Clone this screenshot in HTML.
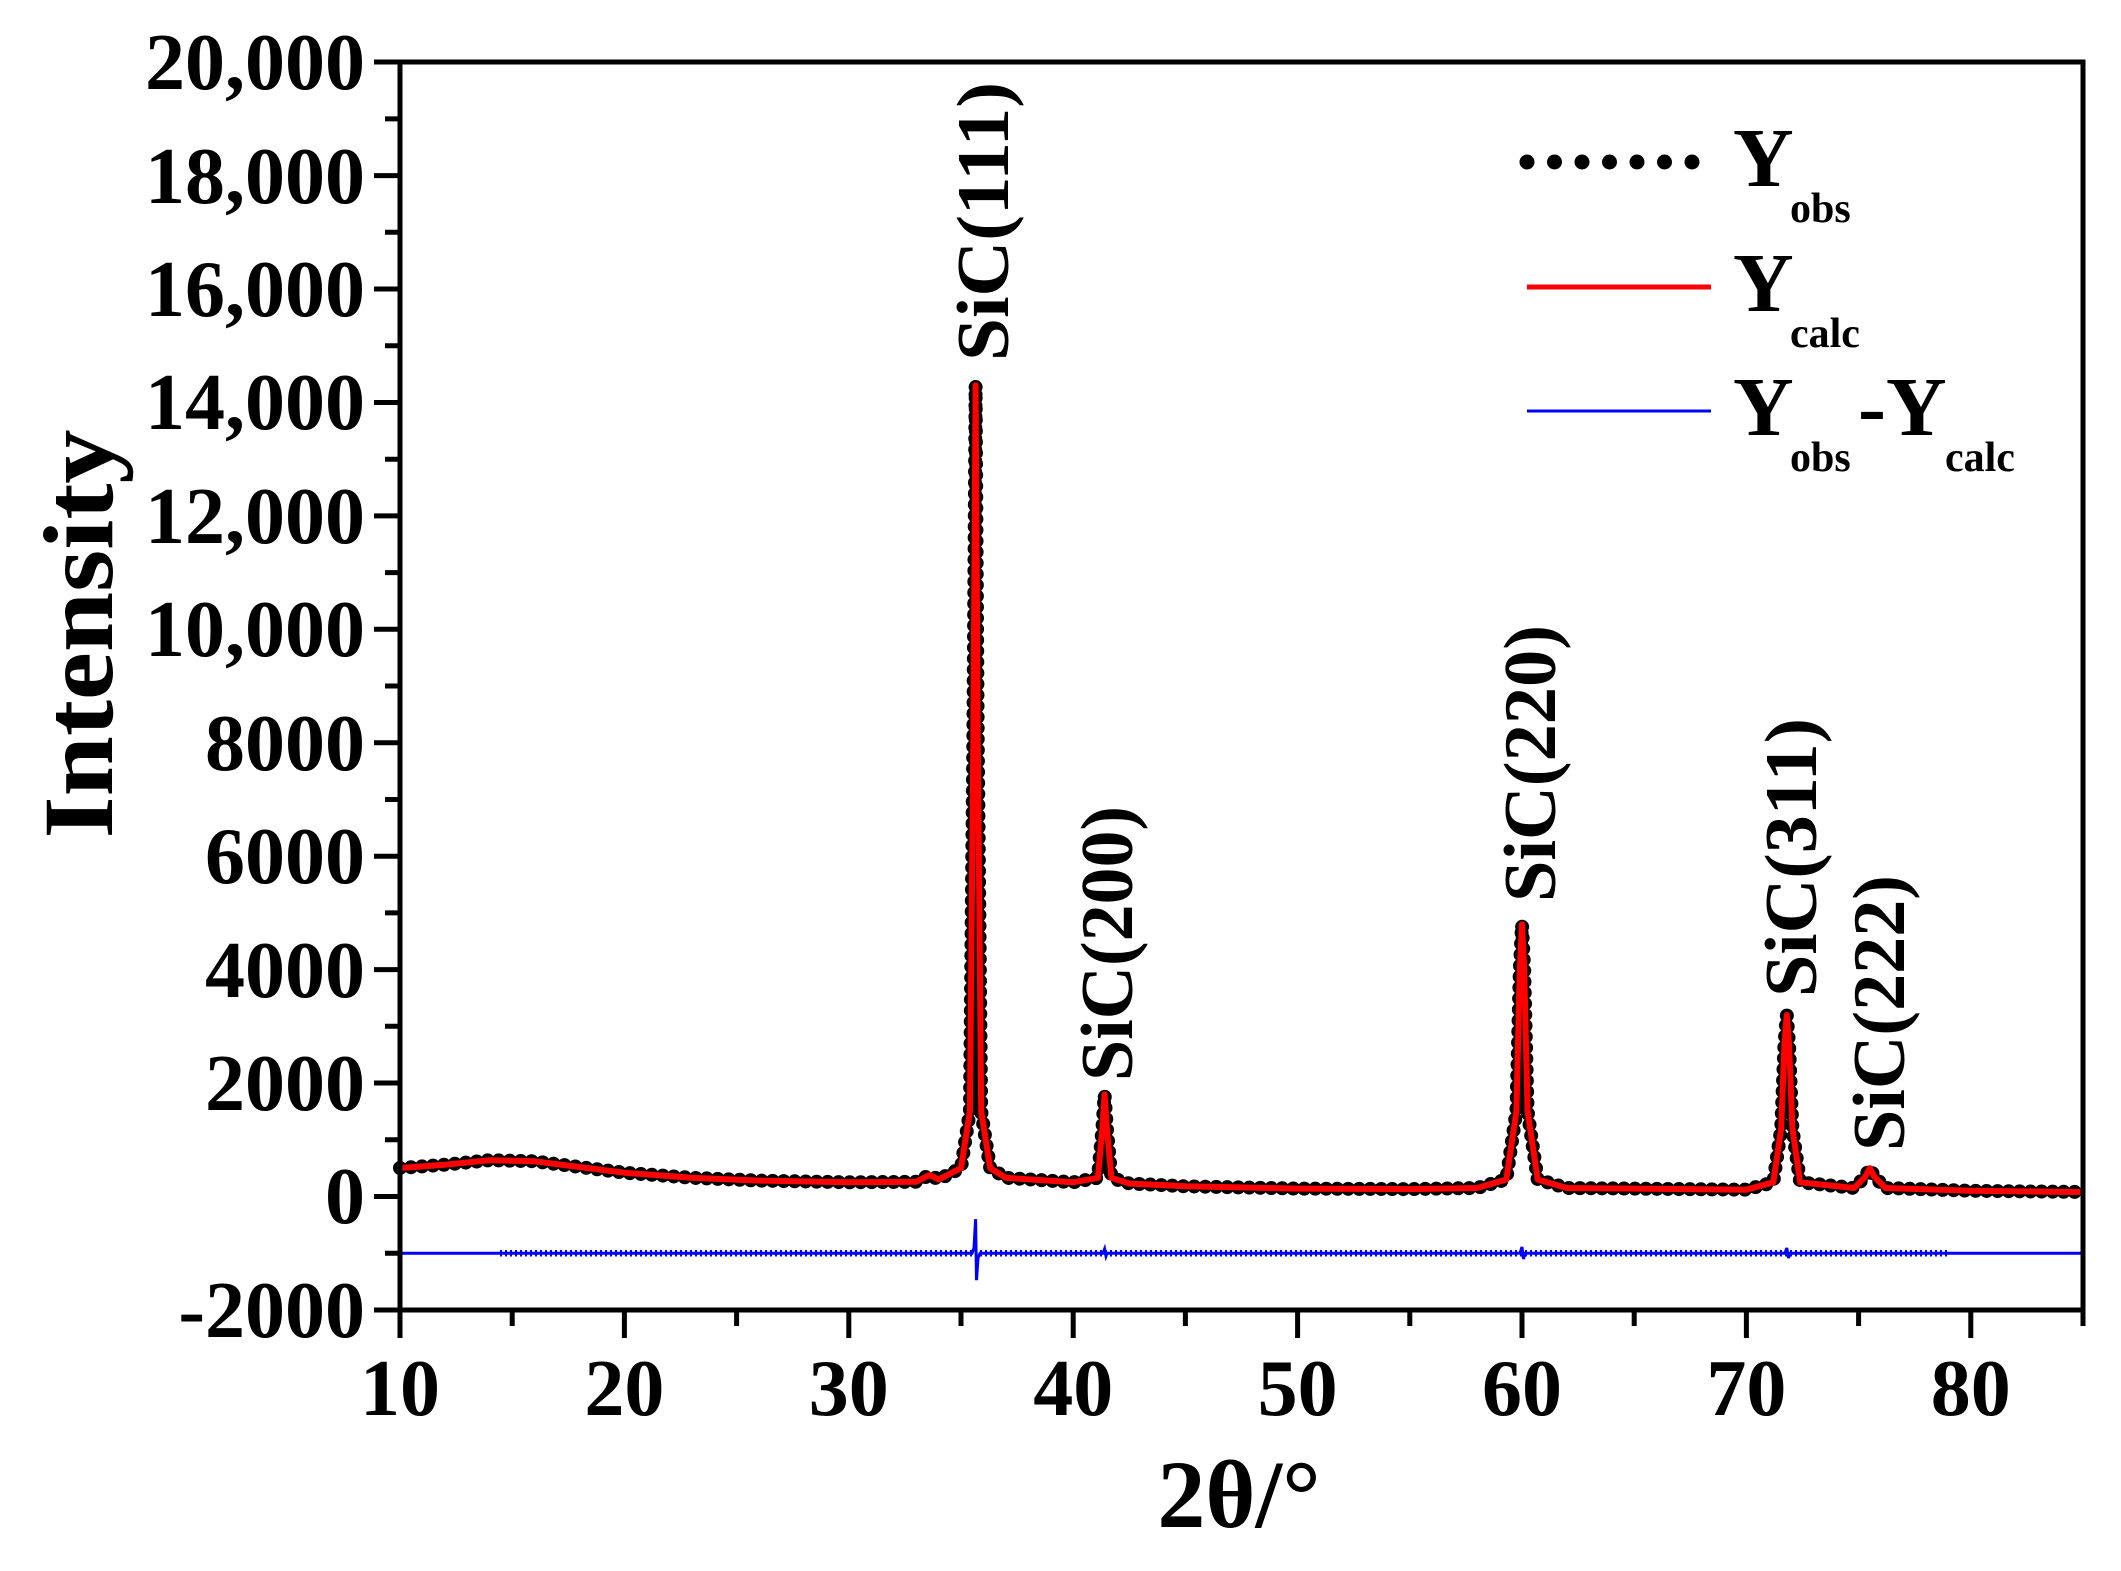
<!DOCTYPE html>
<html><head><meta charset="utf-8"><style>body{margin:0;background:#fff}svg{display:block}</style></head>
<body>
<svg width="2121" height="1571" xmlns="http://www.w3.org/2000/svg" font-family="Liberation Serif, serif" font-weight="bold">
<path fill="none" stroke="#000" stroke-width="14" stroke-linecap="round" stroke-dasharray="0 11" d="M400,1168 L444.9,1164.7 L489.8,1160.2 L534.6,1161.3 L579.5,1167 L624.4,1172.7 L691.7,1177.8 L759,1180.6 L848.8,1182.3 L916.1,1181.8 L929.6,1175 L938.6,1179.5 L961,1168.1 L969.9,1111.4 L973.3,742.7 L975.6,385.3 L977.8,742.7 L981.2,1111.4 L990.2,1168.1 L1005.9,1177.8 L1073.2,1182.3 L1097.9,1177.8 L1102.4,1128.4 L1104.6,1094.4 L1106.9,1128.4 L1111.4,1177.8 L1129.3,1183.5 L1185.4,1186.3 L1297.6,1188.6 L1409.8,1189.1 L1477.1,1188 L1506.3,1179.5 L1516.4,1111.4 L1519.8,969.6 L1522,924.2 L1524.2,969.6 L1527.6,1111.4 L1537.7,1179.5 L1566.9,1188 L1746.4,1189.7 L1773.3,1182.3 L1781.2,1128.4 L1784.5,1043.3 L1786.8,1015 L1789,1043.3 L1792.4,1128.4 L1800.2,1182.3 L1854.1,1188 L1865.3,1176.6 L1869.8,1168.1 L1874.3,1176.6 L1885.5,1188 L1970.8,1190.8 L2083,1192"/>
<path fill="none" stroke="#f00" stroke-width="6" stroke-linejoin="round" d="M400,1168 L444.9,1164.7 L489.8,1160.2 L534.6,1161.3 L579.5,1167 L624.4,1172.7 L691.7,1177.8 L759,1180.6 L848.8,1182.3 L916.1,1181.8 L929.6,1175 L938.6,1179.5 L961,1168.1 L969.9,1111.4 L973.3,742.7 L975.6,385.3 L977.8,742.7 L981.2,1111.4 L990.2,1168.1 L1005.9,1177.8 L1073.2,1182.3 L1097.9,1177.8 L1102.4,1128.4 L1104.6,1094.4 L1106.9,1128.4 L1111.4,1177.8 L1129.3,1183.5 L1185.4,1186.3 L1297.6,1188.6 L1409.8,1189.1 L1477.1,1188 L1506.3,1179.5 L1516.4,1111.4 L1519.8,969.6 L1522,924.2 L1524.2,969.6 L1527.6,1111.4 L1537.7,1179.5 L1566.9,1188 L1746.4,1189.7 L1773.3,1182.3 L1781.2,1128.4 L1784.5,1043.3 L1786.8,1015 L1789,1043.3 L1792.4,1128.4 L1800.2,1182.3 L1854.1,1188 L1865.3,1176.6 L1869.8,1168.1 L1874.3,1176.6 L1885.5,1188 L1970.8,1190.8 L2083,1192"/>
<path fill="none" stroke="#00f" stroke-width="3" d="M400,1253.2 L972,1253.2 L974,1248 L975.6,1219.2 L976.5,1280.2 L978,1258 L980,1253.2 L1103,1253.2 L1104.6,1249 L1106,1256 L1107,1253.2 L1520,1253.2 L1522,1247 L1523.5,1259 L1525,1253.2 L1785,1253.2 L1786.8,1248 L1788.5,1258 L1790,1253.2 L2083,1253.2"/>
<path fill="none" stroke="#00f" stroke-width="2" stroke-dasharray="2 3" d="M500,1251 L1950,1251 M500,1255.5 L1950,1255.5"/>
<rect x="400" y="62" width="1683" height="1248" fill="none" stroke="#000" stroke-width="5"/>
<g stroke="#000" stroke-width="5">
<path d="M400,1310h-26M400,1253.2h-15M400,1196.5h-26M400,1139.8h-15M400,1083h-26M400,1026.3h-15M400,969.6h-26M400,912.9h-15M400,856.2h-26M400,799.5h-15M400,742.8h-26M400,686h-15M400,629.3h-26M400,572.6h-15M400,515.9h-26M400,459.2h-15M400,402.5h-26M400,345.7h-15M400,289h-26M400,232.3h-15M400,175.6h-26M400,118.9h-15M400,62h-26"/>
<path d="M400,1310v28M512.2,1310v16M624.4,1310v28M736.6,1310v16M848.8,1310v28M961,1310v16M1073.2,1310v28M1185.4,1310v16M1297.6,1310v28M1409.8,1310v16M1522,1310v28M1634.2,1310v16M1746.4,1310v28M1858.6,1310v16M1970.8,1310v28M2083,1310v16"/>
</g>
<g font-size="80" text-anchor="end">
<text x="365" y="1337">-2000</text><text x="365" y="1223">0</text><text x="365" y="1110">2000</text><text x="365" y="997">4000</text><text x="365" y="883">6000</text><text x="365" y="770">8000</text><text x="365" y="656">10,000</text><text x="365" y="543">12,000</text><text x="365" y="429">14,000</text><text x="365" y="316">16,000</text><text x="365" y="203">18,000</text><text x="365" y="89">20,000</text>
</g>
<g font-size="80" text-anchor="middle">
<text x="400" y="1415">10</text><text x="624.4" y="1415">20</text><text x="848.8" y="1415">30</text><text x="1073.2" y="1415">40</text><text x="1297.6" y="1415">50</text><text x="1522" y="1415">60</text><text x="1746.4" y="1415">70</text><text x="1970.8" y="1415">80</text>
</g>
<text x="1239" y="1527" font-size="96" text-anchor="middle">2θ/°</text>
<text transform="translate(112,634) rotate(-90)" font-size="100" text-anchor="middle" textLength="409" lengthAdjust="spacingAndGlyphs">Intensity</text>
<g font-size="74">
<text transform="translate(1008,361) rotate(-90)" textLength="279" lengthAdjust="spacingAndGlyphs">SiC(111)</text>
<text transform="translate(1132,1081) rotate(-90)" textLength="275" lengthAdjust="spacingAndGlyphs">SiC(200)</text>
<text transform="translate(1555,902) rotate(-90)" textLength="277" lengthAdjust="spacingAndGlyphs">SiC(220)</text>
<text transform="translate(1816,997) rotate(-90)" textLength="279" lengthAdjust="spacingAndGlyphs">SiC(311)</text>
<text transform="translate(1904,1151) rotate(-90)" textLength="276" lengthAdjust="spacingAndGlyphs">SiC(222)</text>
</g>
<line x1="1527" y1="162" x2="1700" y2="162" stroke="#000" stroke-width="15" stroke-linecap="round" stroke-dasharray="0 27.5"/>
<line x1="1527" y1="287" x2="1711" y2="287" stroke="#f00" stroke-width="5"/>
<line x1="1527" y1="411" x2="1711" y2="411" stroke="#00f" stroke-width="3"/>
<g font-size="84">
<text x="1733" y="186">Y</text><text x="1790" y="222" font-size="42">obs</text>
<text x="1733" y="311">Y</text><text x="1790" y="347" font-size="42">calc</text>
<text x="1733" y="435">Y</text><text x="1790" y="471" font-size="42">obs</text>
<text x="1858" y="435">-Y</text><text x="1945" y="471" font-size="42">calc</text>
</g>
</svg>
</body></html>
